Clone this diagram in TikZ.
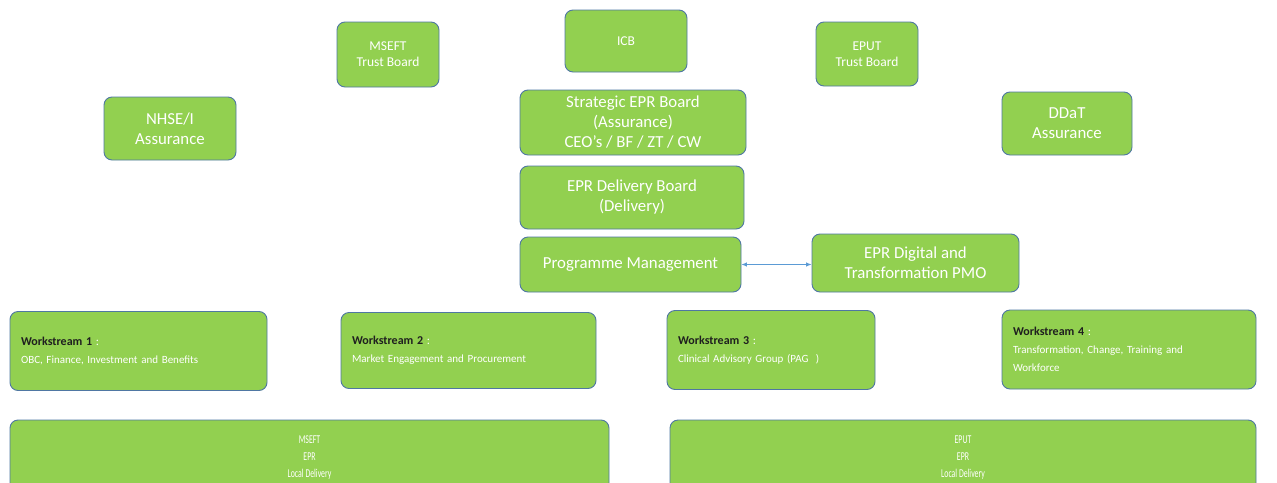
\documentclass[tikz,border=0pt]{standalone}
\usepackage{fontspec}
\setmainfont{Carlito}
\newfontfamily\narrowfont[FakeStretch=0.65]{Carlito}
\usepackage{tikz}
\usetikzlibrary{arrows.meta}
\definecolor{boxgreen}{HTML}{92D050}
\definecolor{boxline}{HTML}{4F77A3}
\definecolor{arrblue}{HTML}{5B9BD5}
\definecolor{wstitle}{HTML}{1F1F1F}
\newcommand{\wshead}[1]{{\fontsize{12}{18}\selectfont\textbf{\color{wstitle}Workstream #1} :}}

\begin{document}
\begin{tikzpicture}[x=1pt,y=-1pt,
        box/.style={draw=boxline, line width=0.9pt, fill=boxgreen, rounded corners=8pt, text=white, align=center, inner sep=0pt},
        bigtxt/.style={font=\fontsize{16.8}{20}\selectfont},
        smalltxt/.style={font=\fontsize{13.5}{16}\selectfont},
        wsbox/.style={box, align=left, font=\fontsize{11}{18}\selectfont},
        localtxt/.style={font=\narrowfont\fontsize{12}{17}\selectfont}]
        \clip (0,0) rectangle (1277,482);
        \fill [white] (0,0) rectangle (1277,482);
        \node [box, smalltxt, minimum width=102pt, minimum height=65pt] (mseftboard) at (388,54.5) {MSEFT\\Trust Board};
        \node [box, smalltxt, minimum width=122pt, minimum height=62pt] (icb) at (626,41) {ICB};
        \node [box, smalltxt, minimum width=102pt, minimum height=64pt] (eputboard) at (867,54) {EPUT\\Trust Board};
        \node [box, bigtxt, minimum width=132pt, minimum height=63pt] (nhsei) at (170,128.5) {NHSE/I\\Assurance};
        \node [box, bigtxt, minimum width=226pt, minimum height=65pt] (strategic) at (633,122.5) {Strategic EPR Board\\(Assurance)\\CEO’s / BF / ZT / CW};
        \node [box, bigtxt, minimum width=130pt, minimum height=63pt] (ddat) at (1067,123.5) {DDaT\\Assurance};
        \node [box, bigtxt, minimum width=224pt, minimum height=63pt] (delivery) at (632,197.5) {EPR Delivery Board\\(Delivery)};
        \node [box, bigtxt, minimum width=221pt, minimum height=55pt] (progman) at (630.5,264.5) {Programme Management};
        \node [box, bigtxt, minimum width=207pt, minimum height=58pt] (pmo) at (915.5,263) {EPR Digital and\\Transformation PMO};
        \draw [{Latex[length=5.5pt,width=4.5pt]}-{Latex[length=5.5pt,width=4.5pt]}, arrblue, line width=0.8pt] (progman.east) -- (pmo.west |- progman.east);
        \node [wsbox, minimum width=257pt, minimum height=79pt, text width=235pt] (ws1) at (138.5,351) {\wshead{1}\\OBC, Finance, Investment and Benefits};
        \node [wsbox, minimum width=255pt, minimum height=76pt, text width=233pt] (ws2) at (468.5,350.5) {\wshead{2}\\Market Engagement and Procurement};
        \node [wsbox, minimum width=208pt, minimum height=79pt, text width=186pt] (ws3) at (771,350) {\wshead{3}\\Clinical Advisory Group (PAG~~)};
        \node [wsbox, minimum width=254pt, minimum height=79pt, text width=232pt] (ws4) at (1129,349.5) {\wshead{4}\\Transformation, Change, Training and\\Workforce};
        \node [box, localtxt, minimum width=599pt, minimum height=76pt] (mseftepr) at (309.5,458) {MSEFT\\EPR\\Local Delivery};
        \node [box, localtxt, minimum width=586pt, minimum height=76pt] (eputepr) at (963,458) {EPUT\\EPR\\Local Delivery};
    \end{tikzpicture}
\end{document}
